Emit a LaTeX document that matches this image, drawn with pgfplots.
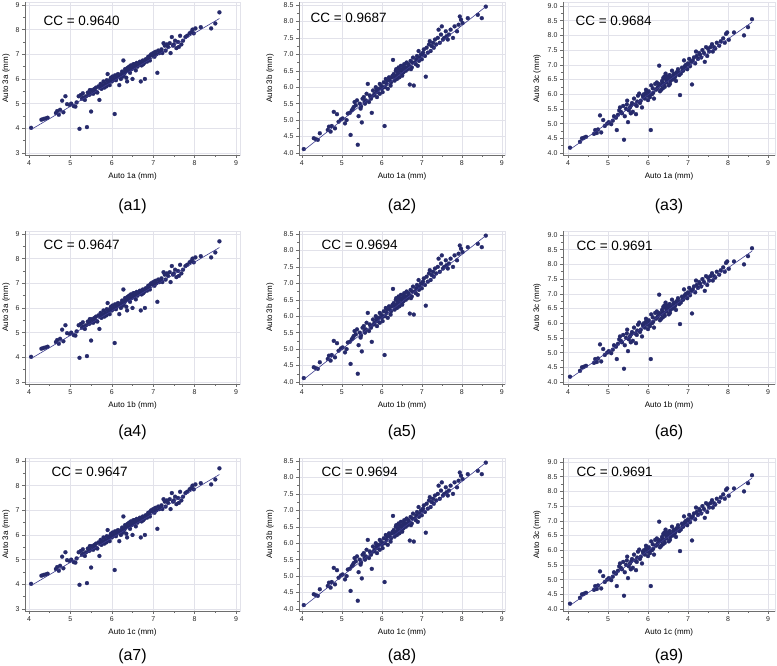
\documentclass[border=0pt]{standalone}
\usepackage{fontspec}
\setmainfont{Liberation Sans}
\usepackage{pgfplots}
\usepackage{pgfplotstable}
\pgfplotsset{compat=1.18}
\definecolor{dot}{HTML}{262A6B}
\definecolor{fitc}{HTML}{3A3A8C}
\definecolor{gridc}{HTML}{E2E2EA}
\definecolor{axc}{HTML}{6E6E6E}

\pgfplotstableread{
x ya yb yc
4.05 4.02 4.12 4.18
4.30 4.35 4.45 4.38
4.35 4.38 4.42 4.50
4.40 4.40 4.40 4.52
4.45 4.43 4.60 4.55
4.65 4.62 4.70 4.65
4.68 4.70 4.80 4.78
4.72 4.55 4.65 4.68
4.75 4.75 4.82 4.80
4.80 5.12 5.25 5.28
4.83 4.65 4.75 4.70
4.88 5.30 5.18 5.12
4.92 4.98 4.95 4.92
4.98 4.95 5.02 5.00
5.02 5.00 5.05 5.05
5.08 4.90 4.90 4.98
5.12 4.88 5.00 5.10
5.15 5.05 5.20 5.25
5.20 5.30 5.22 5.20
5.22 3.98 4.55 4.78
5.25 5.35 5.30 5.30
5.28 5.20 5.35 5.45
5.30 5.42 5.40 5.55
5.32 5.25 5.55 5.40
5.35 5.15 5.45 5.35
5.38 5.30 5.60 5.60
5.40 4.05 4.25 4.45
5.42 5.45 5.12 5.25
5.45 5.35 5.50 5.50
5.47 5.55 5.35 5.65
5.48 5.40 5.42 5.78
5.50 4.68 4.93 5.05
5.52 5.55 5.65 5.45
5.55 5.40 5.70 5.55
5.57 5.45 5.55 5.35
5.58 5.60 5.50 5.62
5.60 5.50 5.60 5.70
5.62 5.65 5.80 5.40
5.65 5.45 6.10 5.85
5.68 5.70 5.55 5.65
5.70 5.15 5.75 5.32
5.72 5.65 5.70 5.60
5.73 5.80 5.65 5.75
5.75 5.60 5.22 5.95
5.78 5.75 5.90 6.02
5.80 5.90 5.75 5.70
5.82 5.65 5.80 5.78
5.85 5.80 6.00 5.55
5.87 5.70 5.90 5.95
5.88 5.95 5.70 5.90
5.90 6.20 5.85 6.00
5.92 5.85 5.95 5.85
5.95 5.75 5.80 6.05
5.95 5.95 6.10 6.15
5.98 6.05 6.05 5.95
6.00 5.90 5.95 5.80
6.02 6.10 5.85 6.10
6.03 5.95 6.00 6.00
6.05 6.00 6.15 5.90
6.07 4.58 4.82 4.78
6.08 6.15 6.00 6.30
6.10 5.95 6.25 6.00
6.12 6.05 6.10 6.20
6.13 6.15 6.20 6.05
6.15 6.20 5.95 5.85
6.18 5.75 6.30 6.35
6.20 6.10 6.20 6.15
6.22 6.00 6.05 6.40
6.23 6.20 6.15 6.20
6.25 6.30 6.30 6.25
6.27 6.10 6.35 6.35
6.28 6.75 6.83 6.97
6.30 6.20 6.40 6.10
6.32 6.40 6.20 6.30
6.33 6.30 6.30 6.15
6.35 6.05 6.50 6.45
6.36 6.35 6.55 6.40
6.37 5.90 6.35 6.20
6.38 6.45 6.25 6.55
6.40 6.35 6.45 6.35
6.41 6.45 6.40 6.60
6.42 6.50 6.60 6.25
6.44 6.25 6.30 6.70
6.45 6.40 6.55 6.50
6.46 6.55 6.50 6.40
6.48 6.40 6.65 6.60
6.50 6.00 6.40 6.50
6.51 6.50 6.35 6.55
6.52 6.60 6.55 6.30
6.54 6.45 6.45 6.65
6.55 6.60 6.60 6.35
6.56 6.55 6.70 6.45
6.58 6.35 6.60 6.55
6.60 6.65 6.50 6.80
6.62 6.50 6.75 6.50
6.63 6.55 6.60 6.65
6.65 6.60 6.55 6.70
6.66 6.65 6.70 6.55
6.68 6.70 6.65 6.60
6.70 5.90 6.08 6.45
6.72 6.55 6.80 6.75
6.73 6.70 6.55 6.70
6.75 6.75 6.60 6.85
6.76 6.60 6.75 6.75
6.78 6.65 6.90 6.65
6.80 6.00 6.05 5.97
6.82 6.80 6.75 6.70
6.85 6.70 6.70 6.90
6.86 6.80 6.85 6.80
6.88 6.90 6.95 6.80
6.90 6.85 6.65 7.15
6.92 6.75 7.10 6.95
6.93 6.95 6.80 6.90
6.95 7.00 6.90 7.00
6.98 6.95 7.00 6.85
7.00 7.05 6.85 7.05
7.01 6.95 7.00 7.00
7.03 6.90 7.05 7.20
7.05 7.10 7.15 6.95
7.08 7.00 6.95 7.10
7.10 6.25 6.32 6.33
7.12 7.15 7.20 7.15
7.15 7.05 7.05 7.25
7.18 7.10 7.30 7.05
7.20 7.20 7.40 7.45
7.22 7.05 7.10 7.30
7.25 7.45 7.25 7.20
7.28 7.35 7.35 7.40
7.30 7.15 7.20 7.35
7.33 7.40 7.45 7.25
7.36 7.30 7.30 7.50
7.40 7.45 7.50 7.40
7.42 7.05 7.75 7.10
7.45 7.70 7.35 7.60
7.48 7.35 7.60 7.30
7.50 7.40 7.85 7.55
7.53 7.55 7.45 7.45
7.56 7.25 7.50 7.60
7.60 7.50 7.70 7.70
7.62 7.30 7.55 7.45
7.65 7.75 7.45 7.60
7.68 7.40 7.60 7.55
7.72 7.55 7.75 7.75
7.78 7.70 7.50 7.65
7.82 7.75 7.85 7.80
7.88 7.85 7.70 7.90
7.92 7.90 7.90 7.75
7.95 8.00 8.15 8.05
7.98 7.85 8.05 8.10
8.02 8.05 7.95 7.85
8.15 8.10 8.10 8.10
8.40 8.05 8.20 8.00
8.50 8.25 8.10 8.28
8.60 8.70 8.45 8.55
}\data

\pgfplotsset{
  panel/.style={
    scale only axis, anchor=south west, clip mode=individual,
    axis line style={gridc}, grid=major, major grid style={gridc, line width=0.5pt},
    xtick pos=left, ytick pos=left, tick align=outside,
    major tick length=3pt, minor tick length=2pt,
    every tick/.style={axc, line width=0.5pt},
    minor x tick num=1, minor y tick num=1,
    xtick={4,5,6,7,8,9},
    tick label style={font=\fontsize{7}{8}\selectfont, text=black!85},
    /pgf/number format/assume math mode=true,
    xticklabel style={yshift=1pt},
    yticklabel style={xshift=1pt},
    after end axis/.code={\draw[axc, line width=0.6pt] (rel axis cs:0,1) -- (rel axis cs:0,0) -- (rel axis cs:1,0);},
  },
  colA/.style={xmin=3.903, xmax=9.097, ymin=2.919, ymax=9.12, width=215pt, height=153pt,
    ytick={3,4,5,6,7,8,9}},
  colB/.style={xmin=3.93, xmax=9.08, ymin=3.939, ymax=8.591, width=206pt, height=153pt,
    ytick={4,4.5,5,5.5,6,6.5,7,7.5,8,8.5},
    yticklabel style={/pgf/number format/.cd, fixed, fixed zerofill, precision=1}},
  colC/.style={xmin=3.875, xmax=9.175, ymin=3.932, ymax=9.136, width=212pt, height=153pt,
    ytick={4,4.5,5,5.5,6,6.5,7,7.5,8,8.5,9},
    yticklabel style={/pgf/number format/.cd, fixed, fixed zerofill, precision=1}},
}

% #1 x, #2 y, #3 style, #4 y column, #5 xlabel, #6 ylabel, #7 CC, #8 CC xshift, #9 tag
\newcommand{\panel}[9]{%
\begin{axis}[panel, #3, at={(#1pt,#2pt)}]
  \addplot[only marks, mark=*, mark size=2pt, draw=dot, fill=dot, line width=0.2pt] table[x=x, y=#4]{\data};
  \fitline
  \node[font=\fontsize{13.5}{15}\selectfont, anchor=west] at (rel axis cs:0,1) [xshift=#8pt, yshift=\ccshift] {#7};
  \node[font=\fontsize{8}{9}\selectfont] at (rel axis cs:0.5,0) [yshift=-21pt] {#5};
  \node[font=\fontsize{8}{9}\selectfont, xshift=\ylabshift, rotate=90] at (rel axis cs:0,0.5) {#6};
  \node[font=\fontsize{16}{18}\selectfont] at (rel axis cs:0.5,0) [yshift=\tagshift] {#9};
\end{axis}}

\begin{document}
\begin{tikzpicture}
\useasboundingbox (0,0) rectangle (777pt,666pt);
% column 1
\def\fitline{\addplot[fitc, line width=0.6pt] coordinates {(4.05,3.95) (8.6,8.45)};}
\def\ylabshift{-19pt}
\def\tagshift{-51pt}\def\ccshift{-19pt}
\panel{25}{511}{colA}{ya}{Auto 1a (mm)}{Auto 3a (mm)}{CC = 0.9640}{15}{(a1)}
\def\tagshift{-48pt}\def\ccshift{-14pt}
\panel{25}{282}{colA}{ya}{Auto 1b (mm)}{Auto 3a (mm)}{CC = 0.9647}{15}{(a4)}
\def\tagshift{-45pt}\def\ccshift{-14pt}
\panel{25}{55}{colA}{ya}{Auto 1c (mm)}{Auto 3a (mm)}{CC = 0.9647}{23}{(a7)}
% column 2
\def\fitline{\addplot[fitc, line width=0.6pt] coordinates {(4.05,4.08) (8.6,8.45)};}
\def\ylabshift{-29pt}
\def\tagshift{-51pt}\def\ccshift{-16pt}
\panel{299}{511}{colB}{yb}{Auto 1a (mm)}{Auto 3b (mm)}{CC = 0.9687}{8}{(a2)}
\def\tagshift{-48pt}\def\ccshift{-14pt}
\panel{299}{282}{colB}{yb}{Auto 1b (mm)}{Auto 3b (mm)}{CC = 0.9694}{19}{(a5)}
\def\tagshift{-45pt}\def\ccshift{-14pt}
\panel{299}{55}{colB}{yb}{Auto 1c (mm)}{Auto 3b (mm)}{CC = 0.9694}{19}{(a8)}
% column 3
\def\fitline{\addplot[fitc, line width=0.6pt] coordinates {(4.05,4.12) (8.6,8.45)};}
\def\ylabshift{-26pt}
\def\tagshift{-51pt}\def\ccshift{-19pt}
\panel{563}{511}{colC}{yc}{Auto 1a (mm)}{Auto 3c (mm)}{CC = 0.9684}{9}{(a3)}
\def\tagshift{-48pt}\def\ccshift{-15pt}
\panel{563}{282}{colC}{yc}{Auto 1b (mm)}{Auto 3c (mm)}{CC = 0.9691}{10}{(a6)}
\def\tagshift{-45pt}\def\ccshift{-14pt}
\panel{563}{55}{colC}{yc}{Auto 1c (mm)}{Auto 3c (mm)}{CC = 0.9691}{10}{(a9)}
\end{tikzpicture}
\end{document}
